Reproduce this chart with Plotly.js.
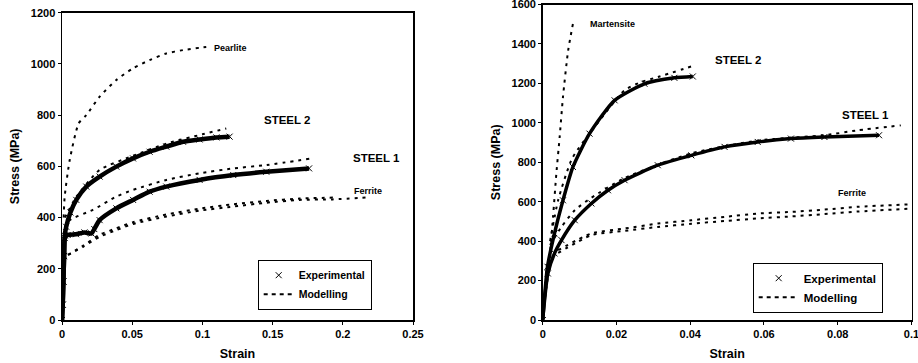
<!DOCTYPE html>
<html><head><meta charset="utf-8">
<script src="https://cdn.plot.ly/plotly-3.0.1.min.js"></script>
<style>html,body{margin:0;padding:0;background:#fff;overflow:hidden}#chart{width:918px;height:363px;display:block}</style>
</head><body><div id="chart"></div>
<script>
// ---- Left panel (Steel 1 / Steel 2, ferrite-pearlite) ----
const L_s2_exp_x = [0, 0.0005, 0.001, 0.0015, 0.002, 0.003, 0.006, 0.0102, 0.0173, 0.0268, 0.0387, 0.0506, 0.0624, 0.0743, 0.0862, 0.098, 0.11, 0.1194];
const L_s2_exp_y = [0, 60, 150, 250, 330, 364, 420, 469, 521, 560, 599, 631, 657, 677, 696, 705, 713, 716];
const L_s1_exp_x = [0, 0.0005, 0.001, 0.0015, 0.002, 0.004, 0.01, 0.016, 0.021, 0.023, 0.0268, 0.0387, 0.0506, 0.0624, 0.0743, 0.098, 0.122, 0.1455, 0.176];
const L_s1_exp_y = [0, 60, 150, 250, 320, 332, 335, 342, 338, 355, 390, 436, 469, 501, 521, 547, 566, 579, 592];
const L_s2_mod_x = [0.002, 0.005, 0.0102, 0.0268, 0.05, 0.075, 0.1, 0.117];
const L_s2_mod_y = [400, 430, 481, 586, 640, 690, 725, 748];
const L_s1_mod_x = [0.002, 0.0055, 0.022, 0.0387, 0.0506, 0.0743, 0.098, 0.122, 0.1455, 0.178];
const L_s1_mod_y = [360, 390, 430, 482, 508, 547, 573, 592, 605, 631];
const L_pea_x = [0.0012, 0.0019, 0.0055, 0.0119, 0.0173, 0.0268, 0.0387, 0.0506, 0.0624, 0.0743, 0.0862, 0.098, 0.105];
const L_pea_y = [400, 481, 625, 768, 800, 872, 937, 983, 1015, 1041, 1054, 1063, 1067];
const L_fer1_x = [0.0043, 0.015, 0.0268, 0.0387, 0.0506, 0.0743, 0.098, 0.122, 0.1455, 0.169, 0.193, 0.219];
const L_fer1_y = [254, 286, 325, 351, 375, 404, 427, 443, 458, 469, 471, 479];
const L_fer2_x = [0.0043, 0.015, 0.0268, 0.0387, 0.0506, 0.0743, 0.098, 0.122, 0.1455, 0.169, 0.193];
const L_fer2_y = [254, 290, 333, 358, 382, 412, 435, 452, 465, 474, 478];

// ---- Right panel (martensite steels) ----
const R_s2_exp_x = [0, 0.0013, 0.0032, 0.0055, 0.0082, 0.0127, 0.0195, 0.0276, 0.0357, 0.0407];
const R_s2_exp_y = [0, 270, 439, 607, 776, 945, 1114, 1198, 1228, 1235];
const R_s1_exp_x = [0, 0.0014, 0.0032, 0.0051, 0.0087, 0.0132, 0.0177, 0.0222, 0.0312, 0.0403, 0.0493, 0.0583, 0.0673, 0.0764, 0.0912];
const R_s1_exp_y = [0, 236, 338, 405, 506, 591, 658, 709, 785, 835, 878, 903, 920, 928, 937];
const R_s2_mod_x = [0.002, 0.0042, 0.008, 0.0141, 0.0222, 0.0267, 0.0312, 0.0412];
const R_s2_mod_y = [400, 608, 820, 979, 1165, 1207, 1232, 1291];
const R_s1_mod_x = [0.002, 0.005, 0.0087, 0.0132, 0.0222, 0.0403, 0.0583, 0.0764, 0.0854, 0.0971];
const R_s1_mod_y = [380, 470, 557, 620, 720, 845, 910, 937, 962, 987];
const R_mar_x = [0, 0.0014, 0.0028, 0.0037, 0.0046, 0.0055, 0.0069, 0.0082];
const R_mar_y = [34, 219, 523, 743, 928, 1131, 1367, 1502];
const R_fer1_x = [0.0042, 0.0132, 0.0222, 0.0312, 0.0403, 0.0493, 0.0583, 0.0673, 0.0764, 0.0854, 0.1];
const R_fer1_y = [354, 439, 464, 489, 506, 523, 540, 548, 560, 574, 587];
const R_fer2_x = [0.0042, 0.0132, 0.0222, 0.0312, 0.0403, 0.0493, 0.0583, 0.0673, 0.0764, 0.0854, 0.1];
const R_fer2_y = [340, 430, 452, 472, 488, 502, 515, 525, 537, 550, 565];

const legendLabels = ["Experimental", "Modelling"];
const L_xticks = [0, 0.05, 0.1, 0.15, 0.2, 0.25];
const R_xticks = [0, 0.02, 0.04, 0.06, 0.08, 0.1];
const L_yticks = [0, 200, 400, 600, 800, 1000, 1200];
const R_yticks = [0, 200, 400, 600, 800, 1000, 1200, 1400, 1600];

const FONT = "Liberation Sans, Arial, sans-serif";
function expTrace(x, y, xa, ya, w) {
  return {x, y, xaxis: xa, yaxis: ya, type: "scatter", mode: "lines+markers", showlegend: false,
    line: {color: "#000", width: w, shape: "spline", smoothing: 0.6},
    marker: {symbol: "x-thin-open", size: 6, color: "#000", line: {color: "#000", width: 1}}, hoverinfo: "skip"};
}
function modTrace(x, y, xa, ya) {
  return {x, y, xaxis: xa, yaxis: ya, type: "scatter", mode: "lines", showlegend: false,
    line: {color: "#000", width: 2, dash: "3px,5px", shape: "spline", smoothing: 0.6}, hoverinfo: "skip"};
}
const traces = [
  expTrace(L_s2_exp_x, L_s2_exp_y, "x", "y", 4.5),
  expTrace(L_s1_exp_x, L_s1_exp_y, "x", "y", 4.5),
  modTrace(L_s2_mod_x, L_s2_mod_y, "x", "y"),
  modTrace(L_s1_mod_x, L_s1_mod_y, "x", "y"),
  modTrace(L_pea_x, L_pea_y, "x", "y"),
  modTrace(L_fer1_x, L_fer1_y, "x", "y"),
  modTrace(L_fer2_x, L_fer2_y, "x", "y"),
  expTrace(R_s2_exp_x, R_s2_exp_y, "x2", "y2", 3.5),
  expTrace(R_s1_exp_x, R_s1_exp_y, "x2", "y2", 3.5),
  modTrace(R_s2_mod_x, R_s2_mod_y, "x2", "y2"),
  modTrace(R_s1_mod_x, R_s1_mod_y, "x2", "y2"),
  modTrace(R_mar_x, R_mar_y, "x2", "y2"),
  modTrace(R_fer1_x, R_fer1_y, "x2", "y2"),
  modTrace(R_fer2_x, R_fer2_y, "x2", "y2"),
  // legend entries
  {x: [null], y: [null], xaxis: "x", yaxis: "y", mode: "markers", name: legendLabels[0], legend: "legend",
    marker: {symbol: "x-thin-open", size: 6, color: "#000", line: {color: "#000", width: 1}}},
  {x: [null], y: [null], xaxis: "x", yaxis: "y", mode: "lines", name: legendLabels[1], legend: "legend",
    line: {color: "#000", width: 2, dash: "4px,4px"}},
  {x: [null], y: [null], xaxis: "x2", yaxis: "y2", mode: "markers", name: legendLabels[0], legend: "legend2",
    marker: {symbol: "x-thin-open", size: 6, color: "#000", line: {color: "#000", width: 1}}},
  {x: [null], y: [null], xaxis: "x2", yaxis: "y2", mode: "lines", name: legendLabels[1], legend: "legend2",
    line: {color: "#000", width: 2, dash: "4px,4px"}}
];

const axBase = {showgrid: false, zeroline: false, showline: true, mirror: true, linecolor: "#000", linewidth: 1.5,
  ticks: "outside", ticklen: 3, tickwidth: 1, tickcolor: "#000", automargin: false, ticklabeloverflow: "allow",
  tickfont: {family: FONT, size: 11, color: "#000", weight: "bold"}};
const titleFont = {family: FONT, size: 12.5, color: "#000", weight: "bold"};
const W = 918, H = 363;
// plot-area boxes in pixels
const LX0 = 62, LX1 = 413, LYB = 320, LYT = 12.7;
const RX0 = 542.7, RX1 = 911.5, RYB = 320, RYT = 4.5;
const layout = {
  width: W, height: H, margin: {l: 0, r: 0, t: 0, b: 0}, paper_bgcolor: "#fff", plot_bgcolor: "#fff",
  font: {family: FONT, color: "#000"},
  xaxis: Object.assign({}, axBase, {domain: [LX0 / W, LX1 / W], range: [0, 0.25], tickvals: L_xticks, ticktext: L_xticks.map(String),
    title: {text: "Strain", font: titleFont, standoff: 10}, anchor: "y"}),
  yaxis: Object.assign({}, axBase, {domain: [(H - LYB) / H, (H - LYT) / H], range: [0, 1200], tickvals: L_yticks, ticktext: L_yticks.map(String),
    title: {text: "Stress (MPa)", font: titleFont, standoff: 8}, anchor: "x"}),
  xaxis2: Object.assign({}, axBase, {domain: [RX0 / W, RX1 / W], range: [0, 0.1], tickvals: R_xticks, ticktext: R_xticks.map(String),
    title: {text: "Strain", font: titleFont, standoff: 10}, anchor: "y2"}),
  yaxis2: Object.assign({}, axBase, {domain: [(H - RYB) / H, (H - RYT) / H], range: [0, 1600], tickvals: R_yticks, ticktext: R_yticks.map(String),
    title: {text: "Stress (MPa)", font: titleFont, standoff: 8}, anchor: "x2"}),
  legend: {x: 257.7 / W, y: (H - 259.7) / H, xanchor: "left", yanchor: "top", bordercolor: "#000", borderwidth: 1,
    bgcolor: "#fff", font: {family: FONT, size: 10.5, color: "#000", weight: "bold"}, tracegroupgap: 0, itemwidth: 30},
  legend2: {x: 752.7 / W, y: (H - 262.7) / H, xanchor: "left", yanchor: "top", bordercolor: "#000", borderwidth: 1,
    bgcolor: "#fff", font: {family: FONT, size: 11.5, color: "#000", weight: "bold"}, tracegroupgap: 0, itemwidth: 40},
  annotations: [
    {xref: "x", yref: "y", x: 0.107, y: 1062, text: "Pearlite", showarrow: false, xanchor: "left", font: {family: FONT, size: 9, weight: "bold"}},
    {xref: "x", yref: "y", x: 0.160, y: 781, text: "STEEL 2", showarrow: false, font: {family: FONT, size: 11.5, weight: "bold"}},
    {xref: "x", yref: "y", x: 0.224, y: 632, text: "STEEL 1", showarrow: false, font: {family: FONT, size: 11.5, weight: "bold"}},
    {xref: "x", yref: "y", x: 0.218, y: 504, text: "Ferrite", showarrow: false, font: {family: FONT, size: 9, weight: "bold"}},
    {xref: "x2", yref: "y2", x: 0.0188, y: 1499, text: "Martensite", showarrow: false, font: {family: FONT, size: 9, weight: "bold"}},
    {xref: "x2", yref: "y2", x: 0.0529, y: 1316, text: "STEEL 2", showarrow: false, font: {family: FONT, size: 11.5, weight: "bold"}},
    {xref: "x2", yref: "y2", x: 0.0875, y: 1038, text: "STEEL 1", showarrow: false, font: {family: FONT, size: 11.5, weight: "bold"}},
    {xref: "x2", yref: "y2", x: 0.084, y: 643, text: "Ferrite", showarrow: false, font: {family: FONT, size: 9, weight: "bold"}}
  ]
};
Plotly.newPlot("chart", traces, layout, {staticPlot: true, displayModeBar: false});
</script>
</body></html>
